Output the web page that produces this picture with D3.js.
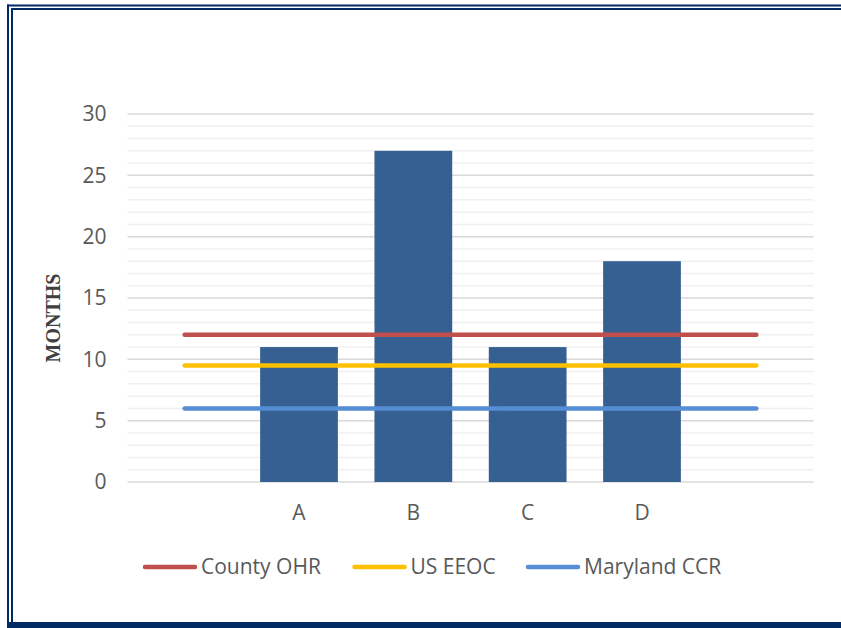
<!DOCTYPE html>
<html>
<head>
<meta charset="utf-8">
<script src="https://cdn.jsdelivr.net/npm/d3@7"></script>
<style>
  body { margin: 0; background: #fff; }
  text { font-family: "Open Sans", sans-serif; }
</style>
</head>
<body>
<script>
// chart data
var categories = ["", "A", "B", "C", "D", ""];
var barValues = [null, 11, 27, 11, 18, null];
var seriesNames = ["County OHR", "US EEOC", "Maryland CCR"];
var countyOHR = [12, 12, 12, 12, 12, 12];
var usEEOC = [9.5, 9.5, 9.5, 9.5, 9.5, 9.5];
var marylandCCR = [6, 6, 6, 6, 6, 6];
var seriesColors = ["#C0504D", "#FFC000", "#558ED5"];
var yTicks = [0, 5, 10, 15, 20, 25, 30];
var yMinor = d3.range(0, 31, 1);

var W = 841, H = 628;
var margin = {top: 114, right: 27.5, bottom: 146, left: 127.5},
    width = W - margin.left - margin.right,
    height = H - margin.top - margin.bottom;

var svg = d3.select("body").append("svg")
    .attr("width", W)
    .attr("height", H);

// page frame
var navy = "#002B62";
svg.append("rect").attr("x", 7).attr("y", 4.5).attr("width", W - 7).attr("height", 2).attr("fill", navy);
svg.append("rect").attr("x", 11).attr("y", 8).attr("width", W - 11).attr("height", 2).attr("fill", navy);
svg.append("rect").attr("x", 7).attr("y", 4.5).attr("width", 2).attr("height", H).attr("fill", navy);
svg.append("rect").attr("x", 11).attr("y", 8).attr("width", 2).attr("height", H).attr("fill", navy);
svg.append("rect").attr("x", 7).attr("y", 622).attr("width", W - 7).attr("height", 6).attr("fill", navy);

var g = svg.append("g")
    .attr("transform", "translate(" + margin.left + "," + margin.top + ")");

var x = d3.scaleBand()
    .domain(d3.range(categories.length))
    .range([0, width])
    .padding(0);
var y = d3.scaleLinear()
    .domain([0, 30])
    .range([height, 0]);

// gridlines
g.selectAll(".minor")
    .data(yMinor.filter(function(d) { return d % 5 !== 0; }))
    .enter().append("line")
    .attr("x1", 0).attr("x2", width)
    .attr("y1", function(d) { return y(d); })
    .attr("y2", function(d) { return y(d); })
    .attr("stroke", "#F0F0F0")
    .attr("stroke-width", 1.5);
g.selectAll(".major")
    .data(yTicks)
    .enter().append("line")
    .attr("x1", 0).attr("x2", width)
    .attr("y1", function(d) { return y(d); })
    .attr("y2", function(d) { return y(d); })
    .attr("stroke", "#D9D9D9")
    .attr("stroke-width", 1.5);

// y axis labels
var yAxis = g.append("g")
    .call(d3.axisLeft(y).tickValues(yTicks).tickSize(0).tickPadding(21));
yAxis.select(".domain").remove();
yAxis.selectAll("text")
    .style("font-family", "Open Sans")
    .style("font-size", "21px")
    .attr("fill", "#595959");

// x axis labels
var xAxis = g.append("g")
    .attr("transform", "translate(0," + height + ")")
    .call(d3.axisBottom(x).tickSize(0).tickPadding(23)
      .tickFormat(function(i) { return categories[i]; }));
xAxis.select(".domain").remove();
xAxis.selectAll("text")
    .style("font-family", "Open Sans")
    .style("font-size", "21px")
    .attr("fill", "#595959");

// bars
var barW = x.bandwidth() * 0.68;
g.selectAll(".bar")
    .data(barValues.map(function(v, i) { return {i: i, v: v}; })
      .filter(function(d) { return d.v != null; }))
    .enter().append("rect")
    .attr("class", "bar")
    .attr("x", function(d) { return x(d.i) + (x.bandwidth() - barW) / 2; })
    .attr("width", barW)
    .attr("y", function(d) { return y(d.v); })
    .attr("height", function(d) { return height - y(d.v); })
    .attr("fill", "#376092");

// reference lines
var series = [countyOHR, usEEOC, marylandCCR];
var line = d3.line()
    .x(function(d, i) { return x(i) + x.bandwidth() / 2; })
    .y(function(d) { return y(d); });
series.forEach(function(s, k) {
  g.append("path")
    .attr("d", line(s))
    .attr("fill", "none")
    .attr("stroke", seriesColors[k])
    .attr("stroke-width", 4.5)
    .attr("stroke-linecap", "round");
});

// y axis title
svg.append("text")
    .attr("transform", "translate(60,318) rotate(-90)")
    .attr("text-anchor", "middle")
    .style("font-family", "Liberation Serif")
    .style("font-weight", "bold")
    .style("font-size", "20px")
    .attr("fill", "#404040")
    .text("MONTHS");

// legend
var legendX = [145, 354.5, 528];
var legend = svg.append("g");
seriesNames.forEach(function(name, k) {
  legend.append("line")
    .attr("x1", legendX[k]).attr("x2", legendX[k] + 50)
    .attr("y1", 567).attr("y2", 567)
    .attr("stroke", seriesColors[k])
    .attr("stroke-width", 4.5)
    .attr("stroke-linecap", "round");
  legend.append("text")
    .attr("x", legendX[k] + 56)
    .attr("y", 567)
    .attr("dy", "0.35em")
    .style("font-size", "21px")
    .attr("fill", "#595959")
    .text(name);
});
</script>
</body>
</html>
